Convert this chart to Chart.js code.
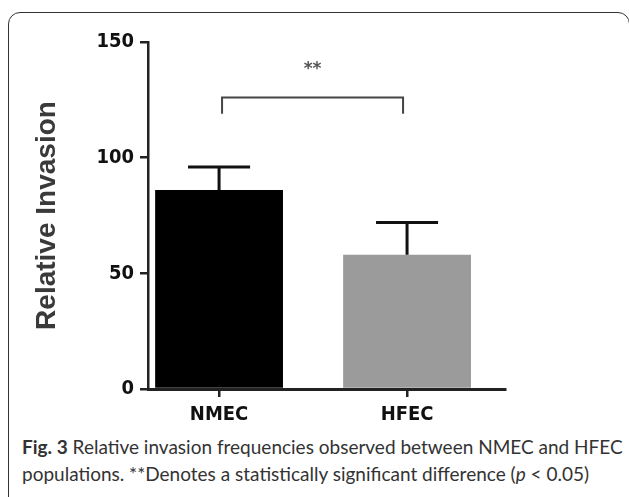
<!DOCTYPE html>
<html>
<head>
<meta charset="utf-8">
<script src="https://cdn.jsdelivr.net/npm/chart.js@4.4.1/dist/chart.umd.min.js"></script>
<style>
  body { margin: 0; background: #fff; }
  #frame { position: absolute; left: 8px; top: 12px; width: 620px; height: 500px; border: 1.5px solid #333; border-radius: 12px; }
  #wrap { position: absolute; left: 0; top: 0; width: 629px; height: 430px; }
  .cap { position: absolute; left: 22px; font-family: 'Lato', 'Open Sans', sans-serif; font-size: 19px; color: #333; white-space: nowrap; }
</style>
</head>
<body>
<div id="frame"></div>
<div id="wrap"><canvas id="invasionChart"></canvas></div>
<div class="cap" style="top:435px"><b>Fig. 3</b> Relative invasion frequencies observed between NMEC and HFEC</div>
<div class="cap" style="top:462px">populations. **Denotes a statistically significant difference (<i>p</i> &lt; 0.05)</div>
<script>
// data
const categories = ['NMEC', 'HFEC'];
const means = [86, 58];
const errUpper = [96, 72];
const barColors = ['#000000', '#9b9b9b'];
const yTicks = [0, 50, 100, 150];
const sigPair = [0, 1];
const sigLabel = '**';
const sigLevel = 126;
const sigLeg = 119;

const tickFont = { family: "'Liberation Sans Narrow', 'DejaVu Sans Condensed', sans-serif", size: 20, weight: 'bold' };

// error bars + significance bracket
const extras = {
  id: 'extras',
  afterDatasetsDraw(chart) {
    const { ctx, scales: { x, y } } = chart;
    ctx.save();
    ctx.strokeStyle = '#111';
    ctx.lineWidth = 3;
    means.forEach((m, i) => {
      const cx = x.getPixelForValue(i);
      const half = x.getPixelForValue(i + 0.165) - cx;
      ctx.beginPath();
      ctx.moveTo(cx, y.getPixelForValue(m));
      ctx.lineTo(cx, y.getPixelForValue(errUpper[i]));
      ctx.moveTo(cx - half, y.getPixelForValue(errUpper[i]));
      ctx.lineTo(cx + half, y.getPixelForValue(errUpper[i]));
      ctx.stroke();
    });
    // bracket
    const x1 = x.getPixelForValue(sigPair[0]) + 3;
    const x2 = x.getPixelForValue(sigPair[1]) - 4;
    const yt = y.getPixelForValue(sigLevel);
    const yb = y.getPixelForValue(sigLeg);
    ctx.strokeStyle = '#444';
    ctx.lineWidth = 2;
    ctx.beginPath();
    ctx.moveTo(x1, yb);
    ctx.lineTo(x1, yt);
    ctx.lineTo(x2, yt);
    ctx.lineTo(x2, yb);
    ctx.stroke();
    ctx.fillStyle = '#555';
    ctx.font = 'bold 17px DejaVu Sans';
    ctx.textAlign = 'center';
    ctx.textBaseline = 'middle';
    ctx.fillText(sigLabel, (x1 + x2) / 2, y.getPixelForValue(138));
    ctx.restore();
  }
};

const ctx = document.getElementById('invasionChart').getContext('2d');
new Chart(ctx, {
  type: 'bar',
  data: {
    datasets: [{
      data: means.map((v, i) => ({ x: i, y: v })),
      backgroundColor: barColors,
      borderWidth: 0,
      barPercentage: 0.68,
      categoryPercentage: 1
    }]
  },
  options: {
    responsive: true,
    maintainAspectRatio: false,
    animation: false,
    layout: { padding: { left: 30, top: 42, right: 124, bottom: 0 } },
    plugins: { legend: { display: false }, tooltip: { enabled: false } },
    scales: {
      x: {
        type: 'linear',
        offset: false,
        min: -0.378,
        max: 1.521,
        afterBuildTicks: (s) => { s.ticks = categories.map((c, i) => ({ value: i })); },
        afterFit: (s) => { s.height = 41; },
        ticks: {
          callback: (v) => categories[v],
          color: '#111',
          font: tickFont,
          padding: 6,
          maxRotation: 0
        },
        grid: { offset: false, drawOnChartArea: false, drawTicks: true, tickLength: 8, color: '#222', lineWidth: 2.5 },
        border: { color: '#222', width: 3 }
      },
      y: {
        min: 0,
        max: 150,
        afterBuildTicks: (s) => { s.ticks = yTicks.map(v => ({ value: v })); },
        afterFit: (s) => { s.width = 118; },
        ticks: { color: '#111', font: tickFont, padding: 6 },
        grid: { drawOnChartArea: false, drawTicks: true, tickLength: 8, color: '#222', lineWidth: 2.5 },
        border: { color: '#222', width: 2.5 },
        title: {
          display: true,
          text: 'Relative Invasion',
          color: '#3a3a3a',
          font: { family: "'Liberation Sans', Arial, sans-serif", size: 28, weight: 'bold' },
          padding: { top: 0, bottom: 0 }
        }
      }
    }
  },
  plugins: [extras]
});
</script>
</body>
</html>
